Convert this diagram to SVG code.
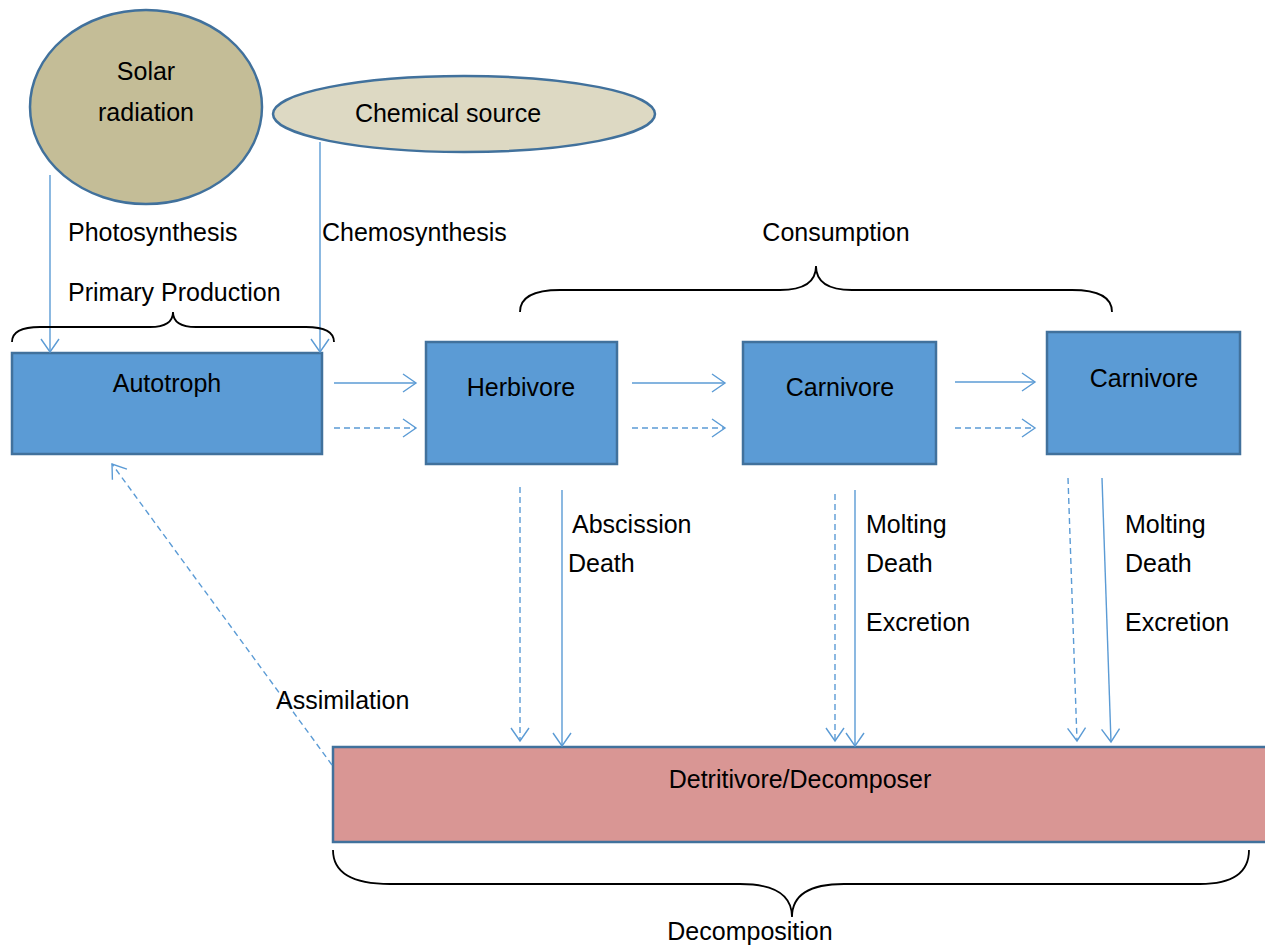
<svg xmlns="http://www.w3.org/2000/svg" width="1265" height="945" viewBox="0 0 1265 945">
<style>
text{font-family:"Liberation Sans",Arial,sans-serif;font-size:25px;fill:#000}
.box{fill:#5b9bd5;stroke:#41719c;stroke-width:2.5}
.c{stroke:#5b9bd5;stroke-width:1.4;fill:none;marker-end:url(#ah)}
.d{stroke-dasharray:6 4}
.br{fill:none;stroke:#000;stroke-width:1.8}
</style>
<defs>
<marker id="ah" viewBox="-14 -10 16 20" refX="0" refY="0" markerWidth="16" markerHeight="20" markerUnits="userSpaceOnUse" orient="auto">
<path d="M-13,-9 L0,0 L-13,9" fill="none" stroke="#5b9bd5" stroke-width="1.4"/>
</marker>
</defs>
<rect width="1265" height="945" fill="#fff"/>
<g id="solar"><ellipse cx="146" cy="107" rx="116" ry="97" fill="#c4bd97" stroke="#41719c" stroke-width="2.5"/><text x="146" y="80" text-anchor="middle">Solar</text><text x="146" y="121" text-anchor="middle">radiation</text></g>
<g id="chemical"><ellipse cx="464" cy="114" rx="191" ry="38" fill="#ddd9c3" stroke="#41719c" stroke-width="2.5"/><text x="448" y="122" text-anchor="middle">Chemical source</text></g>
<g id="autotroph"><rect class="box" x="12" y="353" width="310" height="101"/><text x="167" y="392" text-anchor="middle">Autotroph</text></g>
<g id="herbivore"><rect class="box" x="426" y="342" width="191" height="122"/><text x="521" y="396" text-anchor="middle">Herbivore</text></g>
<g id="carnivore1"><rect class="box" x="743" y="342" width="193" height="122"/><text x="840" y="396" text-anchor="middle">Carnivore</text></g>
<g id="carnivore2"><rect class="box" x="1047" y="332" width="193" height="122"/><text x="1144" y="387" text-anchor="middle">Carnivore</text></g>
<g id="detritivore"><rect x="333" y="747" width="935" height="95" fill="#d99694" stroke="#41719c" stroke-width="2.5"/><text x="800" y="788" text-anchor="middle">Detritivore/Decomposer</text></g>
<g id="connectors">
<path class="c" d="M50,175 V352"/>
<path class="c" d="M320,142 V352"/>
<path class="c" d="M334,383 H416"/>
<path class="c d" d="M334,428 H416"/>
<path class="c" d="M632,383 H725"/>
<path class="c d" d="M632,428 H725"/>
<path class="c" d="M955,382 H1035"/>
<path class="c d" d="M955,428 H1035"/>
<path class="c d" d="M520,487 V741"/>
<path class="c" d="M562,490 V746"/>
<path class="c d" d="M835,494 V741"/>
<path class="c" d="M855,490 V746"/>
<path class="c d" d="M1068,478 L1077,741"/>
<path class="c" d="M1102,478 L1111,742"/>
<path class="c d" d="M332,765 L112,464"/>
</g>
<g id="braces">
<path class="br" d="M12,342 Q12,327 40,327 H150 Q173,327 173,312 Q173,327 196,327 H306 Q334,327 334,342"/>
<path class="br" d="M520,312 Q520,290 560,290 H780 Q816,290 816,266 Q816,290 852,290 H1072 Q1112,290 1112,312"/>
<path class="br" d="M333,850 Q333,884 390,884 H740 Q792,884 792,917 Q792,884 844,884 H1200 Q1249,884 1249,850"/>
</g>
<g id="labels">
<text x="68" y="241">Photosynthesis</text>
<text x="322" y="241">Chemosynthesis</text>
<text x="68" y="301">Primary Production</text>
<text x="836" y="241" text-anchor="middle">Consumption</text>
<text x="572" y="533">Abscission</text>
<text x="568" y="572">Death</text>
<text x="866" y="533">Molting</text>
<text x="866" y="572">Death</text>
<text x="866" y="631">Excretion</text>
<text x="1125" y="533">Molting</text>
<text x="1125" y="572">Death</text>
<text x="1125" y="631">Excretion</text>
<text x="276" y="709">Assimilation</text>
<text x="750" y="940" text-anchor="middle">Decomposition</text>
</g>
</svg>
